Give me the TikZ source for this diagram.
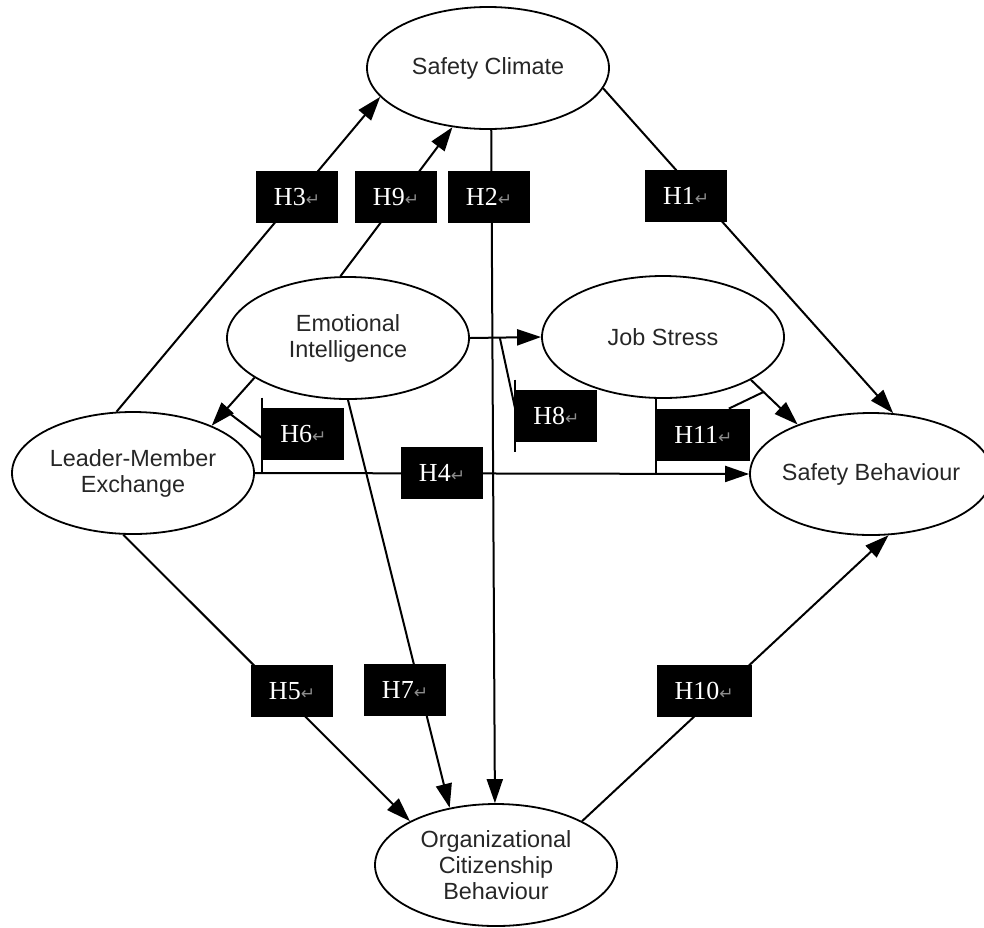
\documentclass[tikz,border=0pt]{standalone}
\usepackage{fontspec}
\setmainfont{Liberation Sans}
\newfontfamily\labfont{Liberation Serif}
\newfontfamily\symfont{DejaVu Sans}
\usetikzlibrary{arrows.meta,shapes.geometric}

% hypothesis label with the return mark
\newcommand{\hlab}[1]{#1{\symfont\fontsize{8.5}{9}\selectfont\textcolor{white!55!black}{↵}}}

\begin{document}
\begin{tikzpicture}[x=0.5pt,y=-0.5pt,>={Triangle[length=12pt,width=8pt]},
  construct/.style={ellipse,draw,line width=0.9pt,minimum width=121pt,minimum height=61pt,
    inner sep=-2pt,align=center,text=black!85,font=\fontsize{11.7}{13}\selectfont},
  hbox/.style={fill=black,text=white,inner xsep=9pt,minimum height=26pt,
    font=\labfont\fontsize{13}{15}\selectfont},
  link/.style={->,line width=1pt}]

% Page size
\useasboundingbox (0,0) rectangle (984,927);

% Constructs
\node[construct] (sc)  at (488,68)  {Safety Climate};
\node[construct] (ei)  at (348,338) {Emotional\\Intelligence};
\node[construct] (js)  at (663,337) {Job Stress};
\node[construct] (lmx) at (133,473) {Leader-Member\\Exchange};
\node[construct] (sb)  at (871,474) {Safety Behaviour};
\node[construct] (ocb) at (496,865) {Organizational\\Citizenship\\Behaviour};

% Paths
\draw[link] (lmx.105) -- (sc.195);
\draw[link] (ei.97) -- (sc.239);
\draw[link] (sc.273) -- (ocb.91);
\draw[link] (sc.350) -- (sb.70);
\draw[link] (ei.203) -- coordinate[pos=0.68] (m6) (lmx.31);
\draw[link] (lmx.east) -- (sb.west);
\draw[link] (ei.east) -- coordinate[pos=0.42] (m8) (js.west);
\draw[link] (js.334) -- coordinate[pos=0.27] (m11) (sb.146);
\draw[link] (lmx.261) -- (ocb.153);
\draw[link] (ei.270) -- (ocb.129);
\draw[link] (ocb.27) -- (sb.286);

% Hypothesis labels
\node[hbox] (h3) at (297,197) {\hlab{H3}};
\node[hbox] (h9) at (396,197) {\hlab{H9}};
\node[hbox] (h2) at (489,197) {\hlab{H2}};
\node[hbox] (h1) at (686,196) {\hlab{H1}};
\node[hbox,anchor=west] (h6) at (262,434) {\hlab{H6}};
\node[hbox] (h4) at (442,473) {\hlab{H4}};
\node[hbox,anchor=west] (h8) at (515,416) {\hlab{H8}};
\node[hbox,anchor=west] (h11) at (656,435) {\hlab{H11}};
\node[hbox] (h5) at (292,691) {\hlab{H5}};
\node[hbox] (h7) at (405,690) {\hlab{H7}};
\node[hbox] (h10) at (704,691) {\hlab{H10}};

% Mediation brackets
\draw[line width=1pt] ([yshift=5pt]h6.north west) -- (h6.west |- lmx.east);
\draw[line width=1pt] (m6) -- ([yshift=-2pt]h6.west);
\draw[line width=1pt] ([yshift=5pt]h8.north west) -- ([yshift=-5pt]h8.south west);
\draw[line width=1pt] (m8) -- ([yshift=4pt]h8.west);
\draw[line width=1pt] (h11.west |- js.south) -- (h11.west |- sb.west);
\draw[line width=1pt] ([xshift=-11pt]h11.north east) -- (m11);

\end{tikzpicture}
\end{document}
